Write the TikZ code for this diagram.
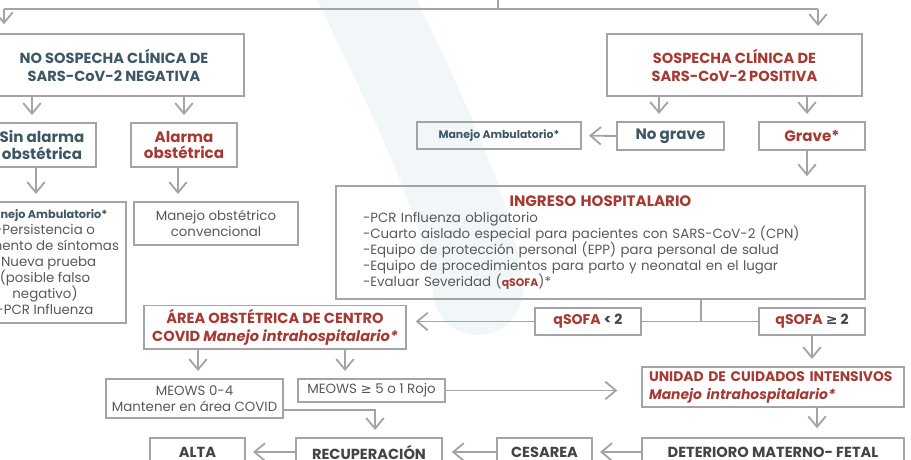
\documentclass[tikz,border=0pt]{standalone}
\usepackage{fontspec}
\setmainfont{Poppins}
\newfontfamily\symfont{DejaVu Sans}
\usetikzlibrary{arrows.meta}
\definecolor{covidred}{HTML}{A63A32}
\definecolor{slate}{HTML}{3E5765}
\definecolor{bodygray}{HTML}{585858}
\definecolor{titlegray}{HTML}{444444}
\definecolor{linegray}{HTML}{A4A4A4}
\definecolor{watermark}{HTML}{F1F6F9}
\newcommand\tightlines{\lineskiplimit=-5pt\relax}

\begin{document}
\begin{tikzpicture}[
  flowbox/.style={draw=linegray,line width=1.1pt,inner sep=2pt,align=center},
  flowline/.style={draw=linegray,line width=1.05pt},
  flowarrow/.style={flowline,-{Straight Barb[length=6pt,width=10pt]},shorten >=4pt},
  bodytext/.style={font=\fontsize{7.6}{9.1}\selectfont\tightlines,text=bodygray},
  headtext/.style={font=\fontsize{8.3}{10.2}\selectfont\bfseries},
  bigtext/.style={font=\fontsize{8.6}{9.6}\selectfont\bfseries},
  smalltext/.style={font=\fontsize{6.2}{8}\selectfont\bfseries}]
\useasboundingbox (0,0) rectangle (18.22,-9.18);
\draw[watermark,line width=1.8cm,line cap=round] (7.2,0.3) .. controls (8.3,-2.0) and (9.4,-4.2) .. (9.56,-5.8);

% top split
\coordinate (top-src) at (9.96,0.3);
\coordinate (top-split) at (9.96,-0.18);
\coordinate (split-left) at (0.08,-0.18);
\coordinate (split-right) at (16.36,-0.18);

\node (no-sospecha) at (2.28,-1.30) [flowbox,headtext,text=slate,minimum width=5.2cm,minimum height=1.24cm] {NO SOSPECHA CLÍNICA DE\\SARS-CoV-2 NEGATIVA};
\node (sospecha) at (14.69,-1.30) [flowbox,headtext,text=covidred,minimum width=5.1cm,minimum height=1.24cm] {SOSPECHA CLÍNICA DE\\SARS-CoV-2 POSITIVA};
\node (sin-alarma) at (0.84,-2.90) [flowbox,bigtext,text=slate,minimum width=2.16cm,minimum height=0.88cm] {Sin alarma\\obstétrica};
\node (alarma) at (3.68,-2.90) [flowbox,bigtext,text=covidred,minimum width=2.12cm,minimum height=0.88cm] {Alarma\\obstétrica};
\node (no-grave) at (13.41,-2.72) [flowbox,bigtext,text=slate,minimum width=2.14cm,minimum height=0.56cm] {No grave};
\node (grave) at (16.24,-2.72) [flowbox,bigtext,text=covidred,minimum width=2.12cm,minimum height=0.56cm] {Grave*};
\node (amb-positivo) at (9.98,-2.71) [flowbox,smalltext,text=slate,minimum width=3.28cm,minimum height=0.54cm] {Manejo Ambulatorio*};
\node (amb-negativo) at (0.90,-5.25) [flowbox,bodytext,minimum width=3.24cm,minimum height=2.42cm] {\textcolor{slate}{\fontsize{6.4}{9.1}\selectfont\bfseries Manejo Ambulatorio*}\\-Persistencia o\\aumento de síntomas\\-Nueva prueba\\(posible falso\\negativo)\\-PCR Influenza};
\node (manejo-obst) at (4.32,-4.47) [flowbox,bodytext,minimum width=3.28cm,minimum height=0.86cm] {Manejo obstétrico\\convencional};
\node (ingreso) at (12.01,-4.85) [flowbox,bodytext,minimum width=10.58cm,minimum height=2.26cm,text width=9.5cm,align=left] {\centering\textcolor{covidred}{\fontsize{8.6}{9.1}\selectfont\bfseries INGRESO HOSPITALARIO}\par\raggedright
-PCR Influenza obligatorio\\
-Cuarto aislado especial para pacientes con SARS-CoV-2 (CPN)\\
-Equipo de protección personal (EPP) para personal de salud\\
-Equipo de procedimientos para parto y neonatal en el lugar\\
-Evaluar Severidad (\textcolor{covidred}{\fontsize{6.2}{9.1}\selectfont\bfseries qSOFA})*};
\node (qsofa-low) at (11.76,-6.43) [flowbox,bigtext,font=\fontsize{8}{9.6}\selectfont\bfseries,text=titlegray,minimum width=2.12cm,minimum height=0.54cm] {\textcolor{covidred}{qSOFA} < 2};
\node (qsofa-high) at (16.24,-6.43) [flowbox,bigtext,font=\fontsize{8}{9.6}\selectfont\bfseries,text=titlegray,minimum width=2.12cm,minimum height=0.54cm] {\textcolor{covidred}{qSOFA} {\symfont ≥} 2};
\node (area-covid) at (5.50,-6.54) [flowbox,headtext,text=covidred,minimum width=5.24cm,minimum height=0.80cm] {ÁREA OBSTÉTRICA DE CENTRO\\COVID \textit{Manejo intrahospitalario*}};
\node (meows-low) at (3.89,-7.97) [flowbox,bodytext,minimum width=3.54cm,minimum height=0.78cm] {MEOWS 0-4\\Mantener en área COVID};
\node (meows-high) at (7.43,-7.81) [flowbox,bodytext,minimum width=2.94cm,minimum height=0.46cm] {MEOWS {\symfont ≥} 5 o 1 Rojo};
\node (uci) at (15.46,-7.74) [flowbox,headtext,font=\fontsize{7.9}{10.2}\selectfont\bfseries,text=covidred,minimum width=5.24cm,minimum height=0.80cm,text width=4.96cm,align=left] {UNIDAD DE CUIDADOS INTENSIVOS\\\textit{Manejo intrahospitalario*}};
\node (deterioro) at (15.46,-9.04) [flowbox,headtext,text=titlegray,minimum width=5.24cm,minimum height=0.56cm] {DETERIORO MATERNO- FETAL};
\node (cesarea) at (10.89,-9.04) [flowbox,headtext,text=titlegray,minimum width=1.90cm,minimum height=0.56cm] {CESAREA};
\node (recuperacion) at (7.38,-9.04) [flowbox,headtext,text=titlegray,minimum width=2.92cm,minimum height=0.56cm] {RECUPERACIÓN};
\node (alta) at (3.95,-9.04) [flowbox,headtext,text=titlegray,minimum width=1.90cm,minimum height=0.56cm] {ALTA};

\draw[flowline] (top-src) -- (top-split);
\draw[flowline] (split-left) -- (split-right);
\draw[flowarrow,shorten >=5pt] (split-left) -- (split-left |- no-sospecha.north);
\draw[flowarrow] (split-right) -- (split-right |- sospecha.north);
\draw[flowarrow] ([xshift=-0.2cm]sin-alarma.north |- no-sospecha.south) -- ([xshift=-0.2cm]sin-alarma.north);
\draw[flowarrow] (alarma.north |- no-sospecha.south) -- (alarma.north);
\draw[flowarrow] ([xshift=-0.12cm]sin-alarma.south) -- ([xshift=-0.12cm]sin-alarma.south |- amb-negativo.north);
\draw[flowarrow] ([xshift=-0.12cm]alarma.south) -- ([xshift=-0.12cm]alarma.south |- manejo-obst.north);
\draw[flowarrow] ([xshift=-0.23cm]no-grave.north |- sospecha.south) -- ([xshift=-0.23cm]no-grave.north);
\draw[flowarrow] ([xshift=-0.1cm]grave.north |- sospecha.south) -- ([xshift=-0.1cm]grave.north);
\draw[flowarrow] (no-grave.west) -- (amb-positivo.east);
\draw[flowarrow,shorten >=5pt] ([xshift=-0.1cm]grave.south) -- ([xshift=-0.1cm]grave.south |- ingreso.north);
\draw[flowline] ([xshift=2.01cm]ingreso.south) |- (qsofa-low.east);
\draw[flowline] ([xshift=2.01cm]ingreso.south) |- (qsofa-high.west);
\draw[flowarrow,shorten >=5pt] (qsofa-low.west) -- (qsofa-low.west -| area-covid.east);
\draw[flowarrow] (qsofa-high.south) -- (qsofa-high.south |- uci.north);
\draw[flowarrow] ([xshift=-1.54cm]area-covid.south) -- ([xshift=-1.54cm]area-covid.south |- meows-low.north);
\draw[flowarrow] ([xshift=1.40cm]area-covid.south) -- ([xshift=1.40cm]area-covid.south |- meows-high.north);
\draw[flowarrow,shorten >=13.5pt] (meows-high.east) -- (meows-high.east -| uci.west);
\draw[flowarrow] ([yshift=-0.23cm]meows-low.east) -| ([xshift=0.12cm]recuperacion.north);
\draw[flowarrow,shorten >=5pt] ([xshift=0.88cm]uci.south) -- ([xshift=0.88cm]uci.south |- deterioro.north);
\draw[flowarrow] (deterioro.west) -- (cesarea.east);
\draw[flowarrow,shorten >=5pt] (cesarea.west) -- (recuperacion.east);
\draw[flowarrow] (recuperacion.west) -- (alta.east);
\end{tikzpicture}
\end{document}
